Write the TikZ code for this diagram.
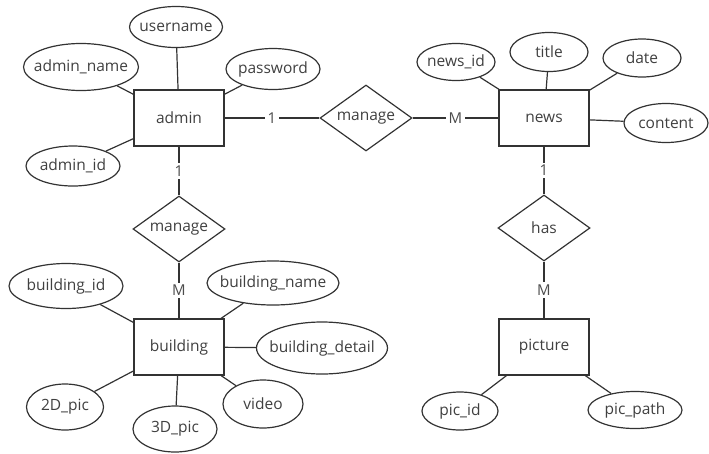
\documentclass[tikz,border=0pt]{standalone}
\usepackage{fontspec}
\setmainfont{Open Sans}
\usetikzlibrary{shapes.geometric}
\tikzset{
  base/.style={draw=black!80, line width=1.2pt, text=black!75, font=\fontsize{15.5}{18}\selectfont, inner sep=0pt},
  ent/.style={base, rectangle, minimum width=90pt, minimum height=56pt},
  attr/.style={base, ellipse, inner xsep=-20pt, inner ysep=-6pt},
  rel/.style={base, diamond, minimum width=92pt, minimum height=66pt, inner xsep=-10pt},
  lnk/.style={draw=black!80, line width=1.2pt},
  card/.style={fill=white, text=black!70, font=\fontsize{15}{17}\selectfont, inner sep=2.5pt}
}
\begin{document}
\begin{tikzpicture}[x=1pt,y=-1pt]
\useasboundingbox (0,0) rectangle (709,453);
% entities
\node[ent] (admin) at (179,118) {admin};
\node[ent] (news) at (544,118) {news};
\node[ent] (building) at (179,347) {building};
\node[ent] (picture) at (544,347) {picture};
% relationships
\node[rel] (m1) at (366,118) {manage};
\node[rel] (m2) at (179,229) {manage};
\node[rel] (has) at (544,228) {has};
% admin attributes
\node[attr, minimum width=93pt, minimum height=41pt] (username) at (176,27) {username};
\node[attr, minimum width=115pt, minimum height=47pt] (adminname) at (81,67) {admin\_name};
\node[attr, minimum width=94pt, minimum height=41pt] (password) at (273,69) {password};
\node[attr, minimum width=94pt, minimum height=40pt] (adminid) at (73,166) {admin\_id};
% news attributes
\node[attr, minimum width=78pt, minimum height=37pt] (newsid) at (456,62) {news\_id};
\node[attr, minimum width=78pt, minimum height=39pt] (title) at (549,52) {title};
\node[attr, minimum width=78pt, minimum height=38pt] (date) at (642,58) {date};
\node[attr, minimum width=84pt, minimum height=39pt] (content) at (666,123) {content};
% building attributes
\node[attr, minimum width=114pt, minimum height=45pt] (buildingid) at (66,286) {building\_id};
\node[attr, minimum width=132pt, minimum height=44pt] (buildingname) at (273,283) {building\_name};
\node[attr, minimum width=131pt, minimum height=52pt] (buildingdetail) at (322,348) {building\_detail};
\node[attr, minimum width=77pt, minimum height=46pt] (pic2d) at (65,407) {2D\_pic};
\node[attr, minimum width=84pt, minimum height=46pt] (pic3d) at (175,429) {3D\_pic};
\node[attr, minimum width=80pt, minimum height=48pt] (video) at (263,404) {video};
% picture attributes
\node[attr, minimum width=76pt, minimum height=38pt] (picid) at (460,411) {pic\_id};
\node[attr, minimum width=94pt, minimum height=37pt] (picpath) at (635,410) {pic\_path};
% attribute links
\foreach \a in {username,adminname,password,adminid}{\draw[lnk] (\a) -- (admin);}
\foreach \a in {newsid,title,date,content}{\draw[lnk] (\a) -- (news);}
\foreach \a in {buildingid,buildingname,buildingdetail,pic2d,pic3d,video}{\draw[lnk] (\a) -- (building);}
\foreach \a in {picid,picpath}{\draw[lnk] (\a) -- (picture);}
% relationship links
\draw[lnk] (admin) -- node[card] {1} (m1);
\draw[lnk] (m1) -- node[card] {M} (news);
\draw[lnk] (admin) -- node[card] {1} (m2);
\draw[lnk] (m2) -- node[card] {M} (building);
\draw[lnk] (news) -- node[card] {1} (has);
\draw[lnk] (has) -- node[card] {M} (picture);
\end{tikzpicture}
\end{document}
